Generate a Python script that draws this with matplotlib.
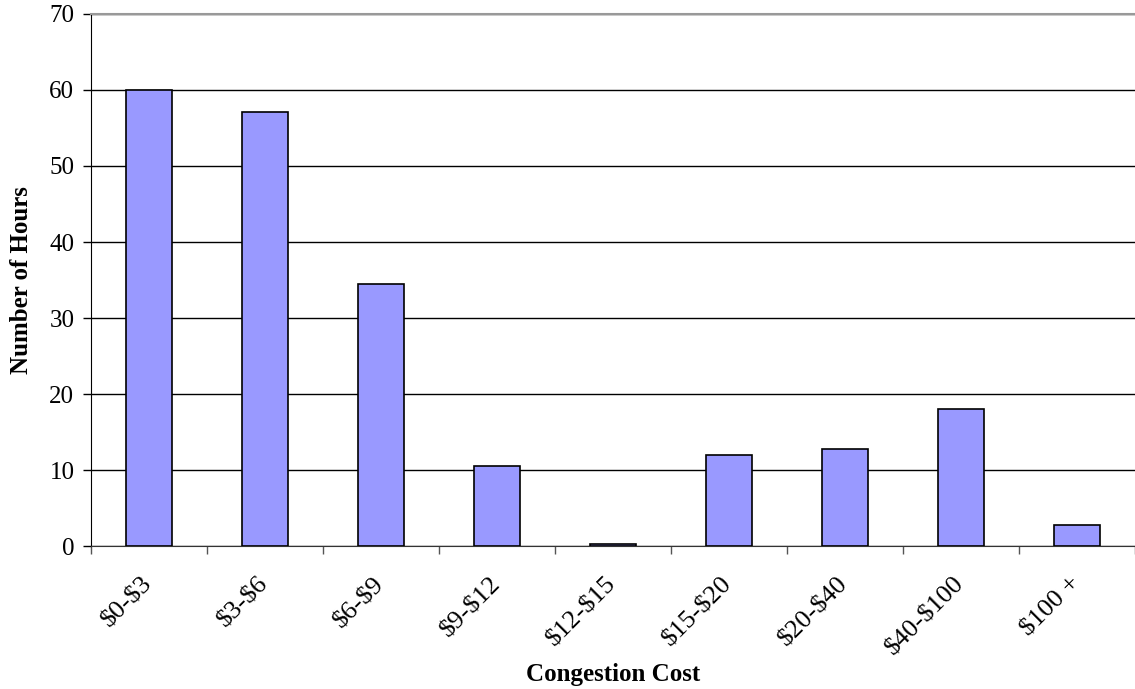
import matplotlib
matplotlib.use("Agg")
import matplotlib.pyplot as plt
import matplotlib.transforms as mtransforms
import numpy as np

# hours spent in each congestion cost band
cost_bands = [r'\$0-\$3', r'\$3-\$6', r'\$6-\$9', r'\$9-\$12', r'\$12-\$15',
              r'\$15-\$20', r'\$20-\$40', r'\$40-\$100', r'\$100 +']
hours = [60.0, 57.1, 34.5, 10.5, 0.3, 12.0, 12.8, 18.0, 2.8]

plt.rcParams['font.family'] = ['Liberation Serif', 'DejaVu Serif']

fig = plt.figure(figsize=(11.35, 6.89), dpi=100)
ax = fig.add_axes([0.0802, 0.2075, 0.9198, 0.7722])

x = np.arange(len(cost_bands))
ax.bar(x, hours, width=0.4, color='#9999FF', edgecolor='black',
       linewidth=1.2, zorder=3)

ax.set_xlim(-0.5, len(cost_bands) - 0.5)
ax.set_ylim(0, 70)
ax.set_yticks(np.arange(0, 71, 10))
ax.yaxis.grid(True, color='black', linewidth=1.0, zorder=0)

# labels at bar centres, tick marks between categories
ax.set_xticks(x)
ax.set_xticklabels(cost_bands, rotation=45, ha='right', va='center',
                   rotation_mode='anchor', fontsize=19)
shift = mtransforms.ScaledTranslation(-0.07, 0, fig.dpi_scale_trans)
for lbl in ax.get_xticklabels():
    lbl.set_transform(lbl.get_transform() + shift)
ax.set_xticks(np.arange(-0.5, len(cost_bands), 1.0), minor=True)
ax.tick_params(axis='x', which='major', length=0, pad=25)
ax.tick_params(axis='x', which='minor', length=6, color='#555555', width=1)
ax.tick_params(axis='y', length=6, width=1, labelsize=18, pad=6)

ax.spines['right'].set_visible(False)
ax.spines['top'].set_color('#999999')
ax.spines['top'].set_linewidth(1.5)
ax.spines['left'].set_color('black')
ax.spines['bottom'].set_color('#333333')

ax.set_xlabel('Congestion Cost', fontsize=18, fontweight='bold', labelpad=2)
ax.set_ylabel('Number of Hours', fontsize=18, fontweight='bold', labelpad=12)

fig.savefig('out.png', dpi=100)
